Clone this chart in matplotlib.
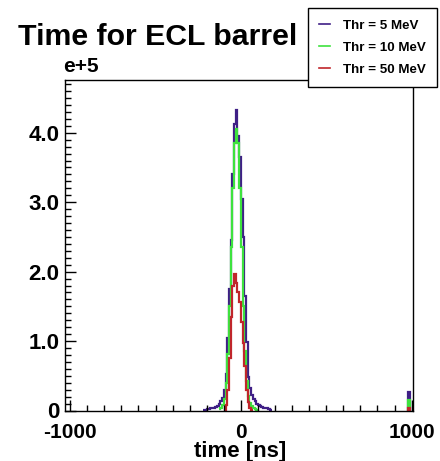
import numpy as np
import matplotlib
matplotlib.use("Agg")
import matplotlib.pyplot as plt
from matplotlib.ticker import MultipleLocator, FixedLocator, FuncFormatter
from matplotlib.lines import Line2D

# counts per 10 ns bin, in units of 1e5
blue_start = -220
blue_vals = [0.01, 0.01, 0.02, 0.02, 0.03, 0.03, 0.04, 0.05, 0.07, 0.10,
             0.13, 0.18, 0.30, 0.52, 1.05, 1.75, 2.45, 3.40, 4.12, 4.33,
             3.95, 3.65, 3.05, 2.50, 1.65, 0.98, 0.48, 0.32, 0.23, 0.17,
             0.13, 0.10, 0.08, 0.06, 0.05, 0.04, 0.03, 0.03, 0.02, 0.01]

green_start = -130
green_vals = [0.02, 0.04, 0.08, 0.17, 0.40, 0.82, 1.50, 2.35, 3.20, 3.85,
              4.06, 3.85, 3.20, 2.35, 1.50, 0.85, 0.42, 0.21, 0.11, 0.06,
              0.04, 0.02, 0.01]

red_start = -100
red_vals = [0.01, 0.08, 0.30, 0.75, 1.35, 1.80, 1.96, 1.84, 1.70, 1.56,
            1.28, 0.97, 0.64, 0.30, 0.12, 0.04, 0.01]

# small pile-up near the upper edge
spike_bin = 980
spike_blue = 0.27
spike_green = 0.15
spike_red = 0.03

labels = ["Thr = 5 MeV", "Thr = 10 MeV", "Thr = 50 MeV"]
colors = ["#3f1f86", "#3ee23e", "#c0262b"]

BIN = 10

plt.rcParams['font.family'] = ['Liberation Sans', 'DejaVu Sans']

fig = plt.figure(figsize=(4.4, 4.61), dpi=100)
ax = fig.add_axes([65 / 440, 1 - 410.5 / 461, (413 - 65) / 440, (410.5 - 80) / 461])

series = [(blue_start, blue_vals, spike_blue),
          (green_start, green_vals, spike_green),
          (red_start, red_vals, spike_red)]
for (start, vals, spike), c in zip(series, colors):
    e = start + BIN * np.arange(len(vals) + 1)
    ax.stairs(vals, e, color=c, lw=1.6, baseline=None)
    ax.stairs([spike], [spike_bin, spike_bin + BIN], color=c, lw=1.6)

ax.set_xlim(-1030, 1008)
ax.set_ylim(0, 4.76)

ax.xaxis.set_major_locator(FixedLocator([-1000, 0, 1000]))
ax.xaxis.set_minor_locator(MultipleLocator(100))
ax.yaxis.set_major_locator(MultipleLocator(1.0))
ax.yaxis.set_minor_locator(MultipleLocator(0.1))
ax.yaxis.set_major_formatter(FuncFormatter(lambda v, p: "0" if v == 0 else "%.1f" % v))
ax.xaxis.set_major_formatter(FuncFormatter(lambda v, p: "%d" % v))

ax.tick_params(which="both", direction="in", top=False, right=False)
ax.tick_params(which="major", length=8, width=1)
ax.tick_params(which="minor", length=4, width=1)
ax.tick_params(axis="x", pad=9, labelsize=15)
ax.tick_params(axis="y", pad=4, labelsize=16)
for lab in ax.get_xticklabels() + ax.get_yticklabels():
    lab.set_fontweight("bold")
for s in ax.spines.values():
    s.set_linewidth(1.0)
    s.set_zorder(5)

fig.text(18 / 440, 1 - 45 / 461, "Time for ECL barrel", fontsize=21.8,
         fontweight="bold", va="baseline", ha="left")
fig.text(63 / 440, 1 - 72 / 461, "e+5", fontsize=15, fontweight="bold",
         va="baseline", ha="left")
fig.text(240 / 440, 1 - 457 / 461, "time [ns]", fontsize=16,
         fontweight="bold", va="baseline", ha="center")

handles = [Line2D([], [], color=c, lw=1.2) for c in colors]
leg = fig.legend(handles, labels, loc="upper left",
                 bbox_to_anchor=(308 / 440, 1 - 8 / 461),
                 bbox_transform=fig.transFigure, frameon=True, fancybox=False,
                 edgecolor="black", framealpha=1,
                 prop={"size": 9.6, "weight": "bold"},
                 handlelength=0.8, handletextpad=1.0, borderpad=0.85,
                 labelspacing=0.72, borderaxespad=0)
leg.get_frame().set_linewidth(1.0)

fig.savefig("out.png", dpi=100)
